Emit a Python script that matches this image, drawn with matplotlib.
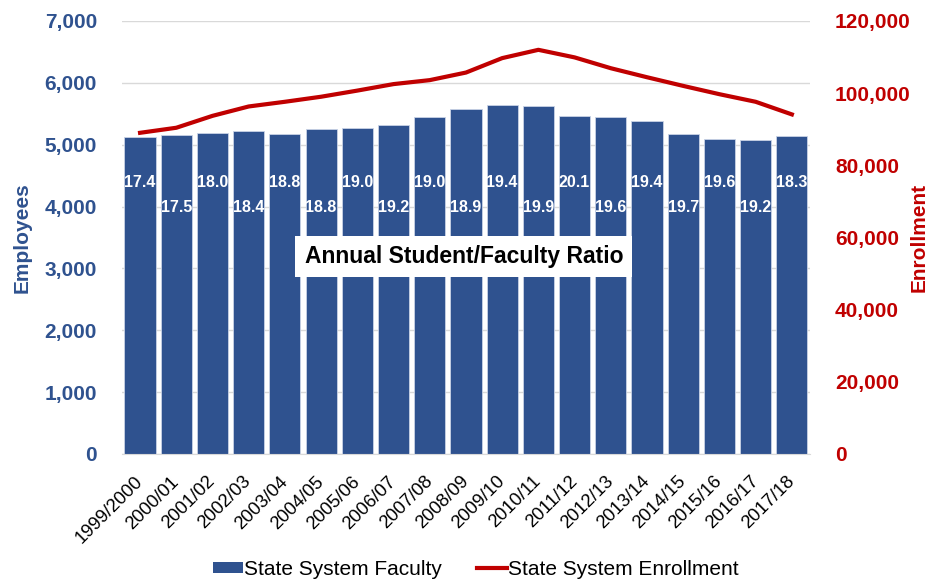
import matplotlib.pyplot as plt
from matplotlib.lines import Line2D
from matplotlib.patches import Patch

plt.rcParams['font.family'] = ['Liberation Sans', 'DejaVu Sans']

years = ['1999/2000', '2000/01', '2001/02', '2002/03', '2003/04', '2004/05', '2005/06',
         '2006/07', '2007/08', '2008/09', '2009/10', '2010/11', '2011/12', '2012/13',
         '2013/14', '2014/15', '2015/16', '2016/17', '2017/18']
faculty = [5125, 5150, 5190, 5220, 5175, 5248, 5270, 5325, 5443, 5582, 5636,
           5620, 5464, 5443, 5383, 5178, 5092, 5076, 5136]
enrollment = [89000, 90400, 93700, 96300, 97600, 99000, 100700, 102500, 103600,
              105700, 109700, 112000, 109900, 106900, 104400, 102000, 99700, 97600, 94100]
ratio = ['17.4', '17.5', '18.0', '18.4', '18.8', '18.8', '19.0', '19.2', '19.0', '18.9',
         '19.4', '19.9', '20.1', '19.6', '19.4', '19.7', '19.6', '19.2', '18.3']

blue = '#2F528F'
red = '#C00000'

fig = plt.figure(figsize=(9.31, 5.82), dpi=100)
ax = fig.add_axes([0.131, 0.22, 0.739, 0.744])
x = list(range(len(years)))
ax.bar(x, faculty, width=0.86, color=blue, edgecolor='#C9D3E6', linewidth=0.6, zorder=2)
ax.set_xlim(-0.5, len(years) - 0.5)
ax.set_ylim(0, 7000)
ax.set_yticks(range(0, 7001, 1000))
ax.set_yticklabels(['{:,}'.format(v) for v in range(0, 7001, 1000)],
                   fontsize=15, fontweight='bold', color=blue)
ax.grid(axis='y', color='#D9D9D9', linewidth=1, zorder=0)
ax.set_axisbelow(True)
for s in ['top', 'left', 'right']:
    ax.spines[s].set_visible(False)
ax.spines['bottom'].set_color('#D9D9D9')
ax.tick_params(axis='both', length=0)
ax.tick_params(axis='y', pad=18)
ax.tick_params(axis='x', pad=18)
ax.set_xticks(x)
ax.set_xticklabels(years, rotation=45, ha='right', va='center', rotation_mode='anchor',
                   fontsize=13.3)
ax.set_ylabel('Employees', fontsize=15, fontweight='bold', color=blue, labelpad=9)

# ratio labels, alternating heights
for i, r in enumerate(ratio):
    yv = 4385 if i % 2 == 0 else 3980
    ax.text(i, yv, r, ha='center', va='center', color='white', fontsize=11.5,
            fontweight='bold', zorder=3)

ax.text(0.497, 0.456, 'Annual Student/Faculty Ratio', transform=ax.transAxes, ha='center',
        va='center', fontsize=16.5, fontweight='bold', color='black', zorder=4,
        bbox=dict(boxstyle='square,pad=0.4', facecolor='white', edgecolor='none'))

ax2 = ax.twinx()
ax2.plot(x, enrollment, color=red, linewidth=3, zorder=3)
ax2.set_ylim(0, 120000)
ax2.set_yticks(range(0, 120001, 20000))
ax2.set_yticklabels(['{:,}'.format(v) for v in range(0, 120001, 20000)],
                    fontsize=15, fontweight='bold', color=red)
ax2.tick_params(axis='y', length=0, pad=18)
for s in ['top', 'left', 'right', 'bottom']:
    ax2.spines[s].set_visible(False)
ax2.set_ylabel('Enrollment', fontsize=15, fontweight='bold', color=red, va='center')
ax2.yaxis.set_label_coords(1.159, 0.5)

handles = [Patch(facecolor=blue, edgecolor='none'),
           Line2D([0], [0], color=red, linewidth=3)]
fig.legend(handles, ['State System Faculty', 'State System Enrollment'], loc='center',
           bbox_to_anchor=(0.511, 0.022), ncol=2, frameon=False, fontsize=15,
           handlelength=1.45, handleheight=0.45, handletextpad=0.05, columnspacing=1.7)

fig.savefig('out.png', dpi=100)
